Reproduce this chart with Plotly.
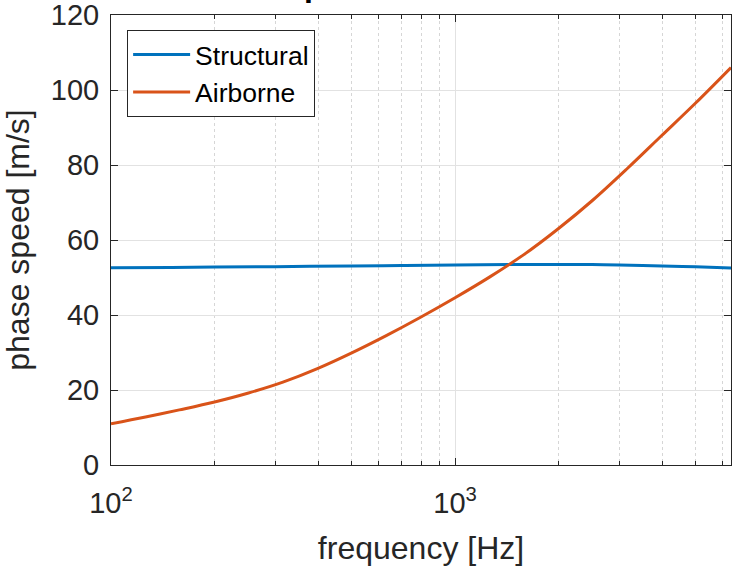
import math
import plotly.graph_objects as go

# ---- data ----
freq_struct = [100, 150, 200, 300, 500, 700, 1000, 1500, 2000, 2500, 3000, 4000, 5000, 6340]
speed_struct = [52.6, 52.7, 52.8, 52.9, 53.1, 53.2, 53.35, 53.45, 53.5, 53.45, 53.35, 53.1, 52.85, 52.55]

freq_air = [100, 126, 158, 200, 251, 316, 398, 501, 631, 794, 1000, 1259, 1585, 1995,
            2512, 3162, 3981, 5012, 6340]
speed_air = [11.0, 12.8, 14.7, 16.8, 19.2, 22.1, 25.7, 29.9, 34.5, 39.4, 44.6, 50.1, 56.1, 63.0,
             70.6, 79.0, 87.8, 96.6, 106.0]

series_names = ["Structural", "Airborne"]
x_tick_vals = [100, 1000]
x_tick_text = ["10<sup>2</sup>", "10<sup>3</sup>"]
x_minor_vals = [200, 300, 400, 500, 600, 700, 800, 900, 2000, 3000, 4000, 5000, 6000]
y_tick_vals = [0, 20, 40, 60, 80, 100, 120]
x_range = [100, 6340]
y_range = [0, 120.001]
title_text = "Phase speed"
x_title = "frequency [Hz]"
y_title = "phase speed [m/s]"

FONT = "Liberation Sans, Arial, Helvetica, sans-serif"
AX = "#262626"

fig = go.Figure()
fig.add_trace(go.Scatter(x=freq_struct, y=speed_struct, mode="lines", name=series_names[0],
                         line=dict(color="#0072BD", width=3, shape="spline")))
fig.add_trace(go.Scatter(x=freq_air, y=speed_air, mode="lines", name=series_names[1],
                         line=dict(color="#D95319", width=3, shape="spline")))

fig.update_layout(
    width=733, height=566,
    margin=dict(l=111, r=2, t=15, b=101),
    paper_bgcolor="white", plot_bgcolor="white",
    font=dict(family=FONT, color=AX),
    showlegend=True,
    legend=dict(x=0.026, y=0.967, xanchor="left", yanchor="top",
                bgcolor="white", bordercolor=AX, borderwidth=1,
                font=dict(size=26.5, color="black", family=FONT),
                itemwidth=57, tracegroupgap=0),
    xaxis=dict(
        type="log", range=[math.log10(x_range[0]), math.log10(x_range[1])],
        automargin=False,
        tickmode="array", tickvals=x_tick_vals, ticktext=x_tick_text,
        ticks="inside", ticklen=7, tickwidth=1, tickcolor=AX,
        showline=True, linecolor=AX, linewidth=1, mirror="ticks",
        showgrid=True, gridcolor="#e2e2e2", gridwidth=1, zeroline=False,
        tickfont=dict(size=29, color=AX, family=FONT),
        ticklabelstandoff=12, ticklabeloverflow="allow",
        minor=dict(tickmode="array", tickvals=x_minor_vals, ticks="inside", ticklen=4,
                   tickcolor=AX, showgrid=True, griddash="dot", gridcolor="#d6d6d6", gridwidth=1),
        title=dict(text=x_title, font=dict(size=32, color=AX, family=FONT), standoff=23),
    ),
    yaxis=dict(
        range=y_range, tickmode="array", tickvals=y_tick_vals,
        automargin=False,
        ticks="inside", ticklen=7, tickwidth=1, tickcolor=AX,
        showline=True, linecolor=AX, linewidth=1, mirror="ticks",
        showgrid=True, gridcolor="#e2e2e2", gridwidth=1, zeroline=False,
        tickfont=dict(size=29, color=AX, family=FONT),
        ticklabelstandoff=5, ticklabeloverflow="allow",
        title=dict(text=y_title, font=dict(size=32, color=AX, family=FONT), standoff=11),
    ),
    annotations=[dict(text="<b>" + title_text + "</b>", xref="paper", yref="paper",
                      x=(182 - 111) / 620, y=(465 - 4) / 450, xanchor="left", yanchor="bottom",
                      showarrow=False, borderpad=0,
                      font=dict(size=32, color="black", family=FONT))],
)

fig.write_html(
    "out.html",
    config={"displayModeBar": False},
    post_script="document.body.style.margin='0';document.body.style.overflow='hidden';",
)
